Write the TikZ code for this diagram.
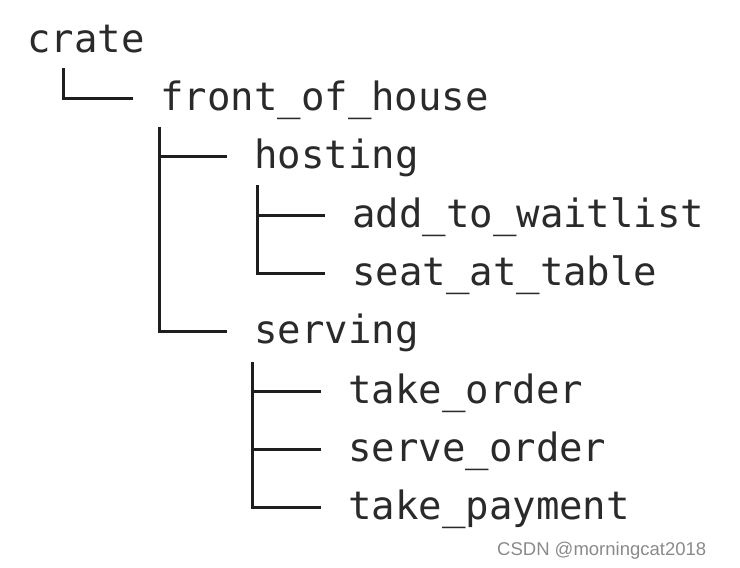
\documentclass[tikz,border=0pt]{standalone}
\usepackage{fontspec}
\setmonofont{DejaVu Sans Mono}
\setsansfont{Liberation Sans}
\definecolor{treetext}{HTML}{2A2A2A}
\definecolor{treeline}{HTML}{1E1E1E}
\definecolor{wmgray}{HTML}{8A8A8A}
\tikzset{
  item/.style={anchor=base west, inner sep=0pt, text height=31pt, text depth=8pt,
    font=\ttfamily\fontsize{39}{47}\selectfont, text=treetext},
  branch/.style={draw=treeline, line width=3pt, shorten >=27pt},
}
\begin{document}
\begin{tikzpicture}[x=1pt,y=-1pt]
\useasboundingbox (0,0) rectangle (740,568);

% module names
\node[item] (crate) at (27,52) {crate};
\node[item] (foh) at (160,110) {front\_of\_house};
\node[item] (hosting) at (254,168) {hosting};
\node[item] (waitlist) at (352,227) {add\_to\_waitlist};
\node[item] (seat) at (352,285) {seat\_at\_table};
\node[item] (serving) at (254,343) {serving};
\node[item] (order) at (348,403) {take\_order};
\node[item] (serve) at (348,461) {serve\_order};
\node[item] (payment) at (348,519) {take\_payment};

% stems below each parent
\coordinate (crate-s) at (63,68);
\coordinate (foh-s) at (159,127);
\coordinate (hosting-s) at (257,185);
\coordinate (serving-s) at (252,362);

\draw[branch] (crate-s) |- (foh.west);
\draw[branch] (foh-s) |- (hosting.west);
\draw[branch] (foh-s) |- (serving.west);
\draw[branch] (hosting-s) |- (waitlist.west);
\draw[branch] (hosting-s) |- (seat.west);
\draw[branch] (serving-s) |- (order.west);
\draw[branch] (serving-s) |- (serve.west);
\draw[branch] (serving-s) |- (payment.west);

\node[anchor=base west, inner sep=0pt, font=\sffamily\fontsize{18.5}{22}\selectfont,
  text=wmgray] (mark) at (497,555) {CSDN @morningcat2018};
\end{tikzpicture}
\end{document}
